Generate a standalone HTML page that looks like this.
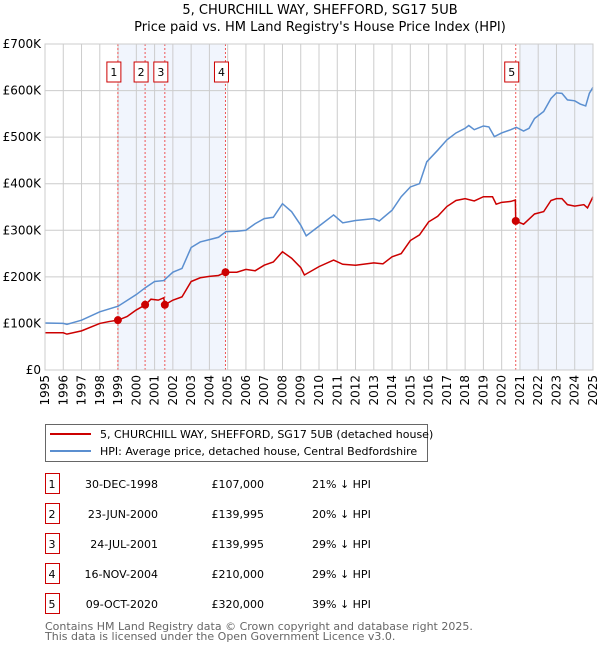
<!DOCTYPE html>
<html><head><meta charset="utf-8"><style>
body{margin:0;background:#fff;font-family:"DejaVu Sans","Liberation Sans",sans-serif;}
svg text{font-family:"DejaVu Sans","Liberation Sans",sans-serif;}
</style></head><body>
<svg id="c" width="600" height="650" xmlns="http://www.w3.org/2000/svg">
<text x="320" y="14" text-anchor="middle" font-size="13">5, CHURCHILL WAY, SHEFFORD, SG17 5UB</text>
<text x="320" y="31" text-anchor="middle" font-size="13">Price paid vs. HM Land Registry's House Price Index (HPI)</text>
<g id="plot"></g>
<rect x="45.5" y="424.5" width="382" height="37" fill="#fff" stroke="#666"/>
<line x1="50" y1="434" x2="91" y2="434" stroke="#cc0000" stroke-width="2"/>
<text x="100" y="438" font-size="11">5, CHURCHILL WAY, SHEFFORD, SG17 5UB (detached house)</text>
<line x1="50" y1="451" x2="91" y2="451" stroke="#5b8fd0" stroke-width="2"/>
<text x="100" y="455" font-size="11">HPI: Average price, detached house, Central Bedfordshire</text>
<g id="table"></g>
<text x="45" y="630" font-size="11" fill="#666">Contains HM Land Registry data © Crown copyright and database right 2025.</text>
<text x="45" y="640" font-size="11" fill="#666">This data is licensed under the Open Government Licence v3.0.</text>
</svg>
<script>
const hpiYears=[1995,1996,1996.2,1997,1998,1999,2000,2000.5,2001,2001.5,2002,2002.5,2003,2003.5,2004,2004.5,2004.9,2005.5,2006,2006.5,2007,2007.5,2008,2008.5,2009,2009.3,2010,2010.8,2011.3,2012,2013,2013.3,2014,2014.5,2015,2015.5,2015.9,2016.5,2017,2017.5,2018,2018.2,2018.5,2019,2019.3,2019.6,2020,2020.5,2020.8,2021.2,2021.5,2021.8,2022.3,2022.7,2023,2023.3,2023.6,2024,2024.3,2024.6,2024.8,2025];
const hpiValues=[101,100,98,107,125,137,162,177,190,192,210,218,263,275,280,285,297,298,300,314,325,328,357,340,311,288,309,333,316,321,325,320,343,372,393,400,447,472,494,509,519,525,516,524,522,501,509,516,521,513,519,540,555,583,595,594,580,578,571,567,594,607];
const propYears=[1995,1996,1996.2,1997,1998,1998.5,1999,1999.5,2000,2000.5,2000.8,2001.2,2001.5,2001.56,2002,2002.5,2003,2003.5,2004,2004.5,2004.9,2005.5,2006,2006.5,2007,2007.5,2008,2008.5,2009,2009.2,2010,2010.8,2011.3,2012,2013,2013.5,2014,2014.5,2015,2015.5,2016,2016.5,2017,2017.5,2018,2018.5,2019,2019.5,2019.7,2020,2020.5,2020.75,2020.77,2021.2,2021.8,2022.3,2022.7,2023,2023.3,2023.6,2024,2024.5,2024.7,2025];
const propValues=[80,80,77,84,100,104,107,115,129,140,152,150,155,140,150,157,190,198,201,203,210,210,216,213,225,232,254,240,220,204,222,236,227,225,230,228,243,250,278,290,318,330,351,364,368,363,372,372,356,360,362,365,320,313,335,340,364,368,368,355,352,355,348,372];
const saleDates=[1998.99,2000.48,2001.56,2004.88,2020.77];
const salePrices=[107000,139995,139995,210000,320000];
const saleLabels=["1","2","3","4","5"];
const saleDateText=["30-DEC-1998","23-JUN-2000","24-JUL-2001","16-NOV-2004","09-OCT-2020"];
const salePriceText=["£107,000","£139,995","£139,995","£210,000","£320,000"];
const saleHpiText=["21% ↓ HPI","20% ↓ HPI","29% ↓ HPI","29% ↓ HPI","39% ↓ HPI"];
const yTicks=[0,100000,200000,300000,400000,500000,600000,700000];
const yTickLabels=["£0","£100K","£200K","£300K","£400K","£500K","£600K","£700K"];
const xTicks=[1995,1996,1997,1998,1999,2000,2001,2002,2003,2004,2005,2006,2007,2008,2009,2010,2011,2012,2013,2014,2015,2016,2017,2018,2019,2020,2021,2022,2023,2024,2025];

const NS="http://www.w3.org/2000/svg";
const L=45,R=593,T=44,B=370;
const X=y=>L+(y-1995)/30*(R-L);
const Y=v=>B-v/700000*(B-T);
const g=document.getElementById('plot');
function mk(tag,at,parent){const e=document.createElementNS(NS,tag);for(const k in at)e.setAttribute(k,at[k]);(parent||g).appendChild(e);return e;}
let s=mk('rect',{x:L,y:T,width:R-L,height:B-T,fill:'#fff'});


s=mk('rect',{x:X(saleDates[0]),y:T,width:X(saleDates[3])-X(saleDates[0]),height:B-T,fill:'#eef3fc',opacity:0.8});


s=mk('rect',{x:X(2021.0),y:T,width:R-X(2021.0),height:B-T,fill:'#eef3fc',opacity:0.8});


xTicks.forEach(t=>{const l=mk('line',{x1:X(t),x2:X(t),y1:T,y2:B,stroke:'#ccc'});


const tx=mk('text',{x:0,y:0,'font-size':12,'text-anchor':'end',transform:`translate(${X(t)+4},${B+5}) rotate(-90)`});tx.textContent=t;

});
yTicks.forEach((t,i)=>{const l=mk('line',{x1:L,x2:R,y1:Y(t),y2:Y(t),stroke:'#ccc'});


const tx=mk('text',{x:L-4,y:Y(t)+4,'font-size':12,'text-anchor':'end'});tx.textContent=yTickLabels[i];

});
saleDates.forEach((d,i)=>{const l=mk('line',{x1:X(d),x2:X(d),y1:T,y2:B,stroke:'#e55','stroke-dasharray':'2,2'});


const r=mk('rect',{x:X(d)-11,y:62,width:14,height:20,fill:'#fff',stroke:'#cc0000'});


const t=mk('text',{x:X(d)-4,y:76,'font-size':11,'text-anchor':'middle'});t.textContent=saleLabels[i];

});
const hp=mk('polyline',{points:hpiYears.map((y,i)=>X(y)+','+Y(hpiValues[i]*1000)).join(' '),fill:'none',stroke:'#5b8fd0','stroke-width':1.5});


const pp=mk('polyline',{points:propYears.map((y,i)=>X(y)+','+Y(propValues[i]*1000)).join(' '),fill:'none',stroke:'#cc0000','stroke-width':1.5});


saleDates.forEach((d,i)=>{const c=mk('circle',{cx:X(d),cy:Y(salePrices[i]),r:4,fill:'#cc0000'});

});
s=mk('rect',{x:L,y:T,width:R-L,height:B-T,fill:'none',stroke:'#ccc'});


const tb=document.getElementById('table');
saleDates.forEach((d,i)=>{const y0=474+i*30;
const r=mk('rect',{x:45.5,y:y0-0.5,width:14,height:20,fill:'#fff',stroke:'#cc0000'},tb);


const cols=[[52,saleLabels[i],'middle'],[158,saleDateText[i],'end'],[264,salePriceText[i],'end'],[312,saleHpiText[i],'start']];
cols.forEach(([x,txt,a],j)=>{const t=mk('text',{x:x,y:y0+14,'font-size':11,'text-anchor':a},tb);t.textContent=txt;

});});
</script>
</body></html>
